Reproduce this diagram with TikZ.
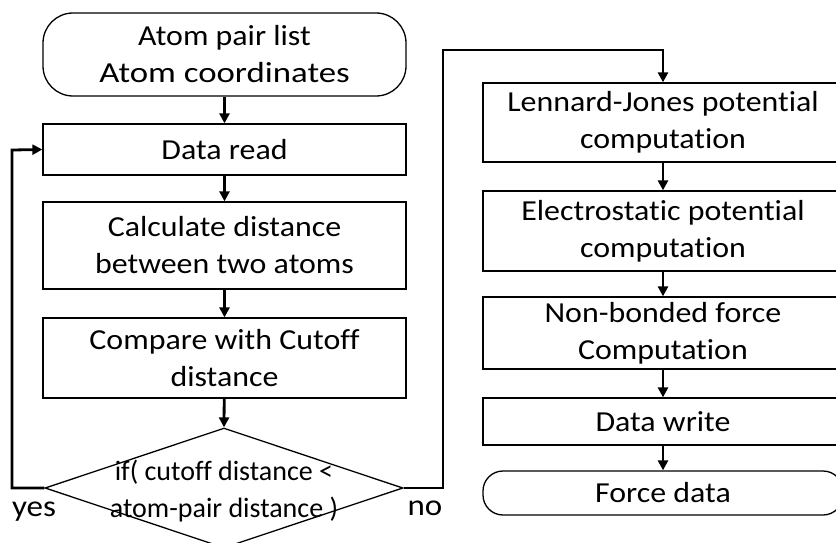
\documentclass[tikz,border=0pt]{standalone}
\usepackage{fontspec}
\setmainfont{Carlito}[FakeStretch=1.1,Ligatures=NoCommon]
\newfontfamily\narrowfont{Carlito}[Ligatures=NoCommon]
\newfontfamily\widefont{Carlito}[FakeStretch=1.2,Ligatures=NoCommon]
\usetikzlibrary{arrows.meta,shapes.geometric}
\begin{document}
\begin{tikzpicture}[x=1pt,y=-1pt,
  box/.style={draw,line width=1.3pt,rectangle,inner sep=0pt,align=center,font=\fontsize{29}{37}\selectfont},
  lbox/.style={box,minimum width=363pt},
  rbox/.style={box,minimum width=360pt},
  flow/.style={line width=2.8pt,-{Triangle[length=10pt,width=10pt]}},
  lbl/.style={font=\fontsize{30}{37}\selectfont,inner sep=0pt}]
\useasboundingbox (0,0) rectangle (836,543);
\clip (0,0) rectangle (836,543);
% left column
\node[lbox,rounded corners=30pt,minimum height=83pt] (start) at (224.5,54.5) {Atom pair list\\{\widefont Atom coordinates}};
\node[lbox,minimum height=51pt] (read) at (224.5,149.5) {Data read};
\node[lbox,minimum height=87pt] (calc) at (224.5,245.5) {Calculate distance\\between two atoms};
\node[lbox,minimum height=80pt] (comp) at (224.5,358) {Compare with Cutoff\\distance};
\node[draw,line width=1.3pt,diamond,inner sep=0pt,minimum width=358pt,minimum height=120pt] (dec) at (224,488) {};
\node[inner sep=0pt,align=center,font=\narrowfont\fontsize{28}{37}\selectfont] (dectext) at (224,491.5) {if( cutoff distance <\\atom-pair distance )};
% right column
\node[rbox,minimum height=79pt] (lj) at (663,122.5) {Lennard-Jones potential\\computation};
\node[rbox,minimum height=80pt] (es) at (663,231) {Electrostatic potential\\computation};
\node[rbox,minimum height=72pt] (nb) at (663,333) {Non-bonded force\\Computation};
\node[rbox,minimum height=47pt] (dw) at (663,421.5) {Data write};
\node[rbox,rounded corners=20pt,minimum height=44pt] (fd) at (663,493) {Force data};
% labels
\node[lbl] (yes) at (34,512) {yes};
\node[lbl] (no) at (425,508) {no};
% connectors
\coordinate (yl) at (12,488);
\coordinate (yt) at (12,150);
\coordinate (nr) at (443,488);
\coordinate (nt) at (443,50);
\coordinate (ntr) at (663,50);
\draw[flow] (start) -- (read);
\draw[flow] (read) -- (calc);
\draw[flow] (calc) -- (comp);
\draw[flow] (comp) -- (dec.north);
\draw[flow] (dec.west) -- (yl) -- (yt) -- (read.west);
\draw[flow] (dec.east) -- (nr) -- (nt) -- (ntr) -- (lj.north);
\draw[flow] (lj) -- (es);
\draw[flow] (es) -- (nb);
\draw[flow] (nb) -- (dw);
\draw[flow] (dw) -- (fd);
\end{tikzpicture}
\end{document}
